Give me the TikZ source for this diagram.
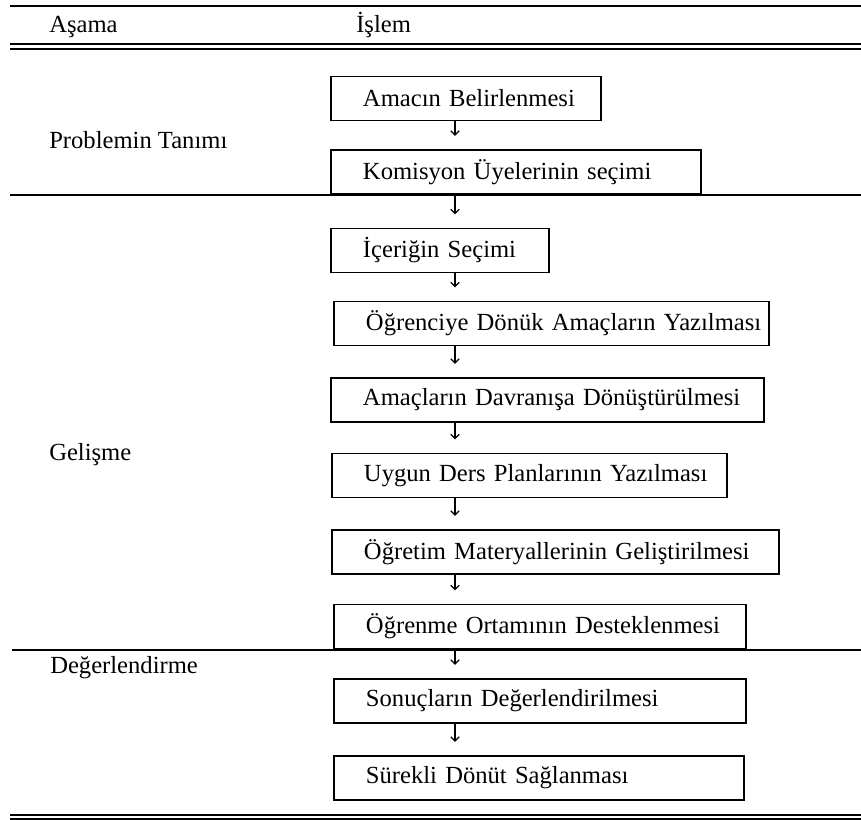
\documentclass[tikz,border=0pt]{standalone}
\usepackage{fontspec}
\setmainfont{Liberation Serif}
\usetikzlibrary{arrows.meta}
\tikzset{
  box/.style={draw, line width=1.4pt, anchor=west, align=left, inner xsep=0pt,
    minimum height=1.1cm, execute at begin node=\hspace*{0.8cm}},
  stage/.style={anchor=west, inner sep=0pt},
  arr/.style={-{Straight Barb[length=3pt,width=6pt]}, line width=0.8pt, shorten >=0.33cm},
  rule/.style={line width=1.8pt}
}
\begin{document}
\begin{tikzpicture}[x=0.025cm, y=-0.025cm, font=\fontsize{17.5}{20}\selectfont]
\useasboundingbox (0,0) rectangle (861,820);
% table rules
\draw[rule] (10,6) -- (861,6);
\draw[rule] (10,44) -- (861,44);
\draw[rule] (10,49) -- (861,49);
\draw[rule] (10,195) -- (861,195);
\draw[rule] (12,650) -- (861,650);
\draw[rule] (10,815) -- (861,815);
\draw[rule] (10,819) -- (861,819);
% header
\node[stage, anchor=base west] (h1) at (49,33) {Aşama};
\node[stage, anchor=base west] (h2) at (356,33) {İşlem};
% stages
\node[stage] (s1) at (49,140) {Problemin Tanımı};
\node[stage] (s2) at (49,455) {Gelişme};
\node[stage] (s3) at (50,668) {Değerlendirme};
% steps
\node[box, text width=6.75cm] (b1) at (330,98.5) {Amacın Belirlenmesi};
\node[box, text width=9.25cm] (b2) at (330,172) {Komisyon Üyelerinin seçimi};
\node[box, text width=5.45cm] (b3) at (330,250.5) {İçeriğin Seçimi};
\node[box, text width=10.875cm] (b4) at (333,323.5) {Öğrenciye Dönük Amaçların Yazılması};
\node[box, text width=10.825cm] (b5) at (330,400) {Amaçların Davranışa Dönüştürülmesi};
\node[box, text width=9.875cm] (b6) at (331,475.5) {Uygun Ders Planlarının Yazılması};
\node[box, text width=11.175cm] (b7) at (331,552) {Öğretim Materyallerinin Geliştirilmesi};
\node[box, text width=10.3cm] (b8) at (333,626.5) {Öğrenme Ortamının Desteklenmesi};
\node[box, text width=10.3cm] (b9) at (333,701) {Sonuçların Değerlendirilmesi};
\node[box, text width=10.25cm] (b10) at (333,778) {Sürekli Dönüt Sağlanması};
% arrows
\coordinate (ax) at (455,0);
\draw[arr] (b1.south -| ax) -- (b2.north -| ax);
\draw[arr] (b2.south -| ax) -- (b3.north -| ax);
\draw[arr] (b3.south -| ax) -- (b4.north -| ax);
\draw[arr] (b4.south -| ax) -- (b5.north -| ax);
\draw[arr] (b5.south -| ax) -- (b6.north -| ax);
\draw[arr] (b6.south -| ax) -- (b7.north -| ax);
\draw[arr] (b7.south -| ax) -- (b8.north -| ax);
\draw[arr] (b8.south -| ax) -- (b9.north -| ax);
\draw[arr] (b9.south -| ax) -- (b10.north -| ax);
\end{tikzpicture}
\end{document}
